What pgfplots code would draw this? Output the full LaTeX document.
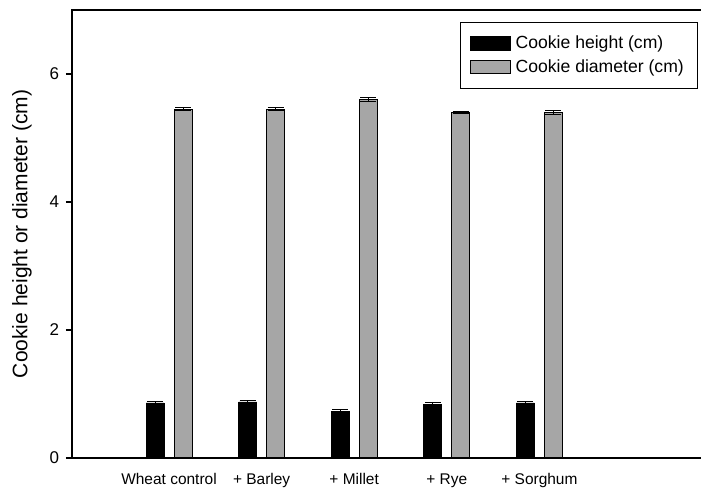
\documentclass[border=0pt]{standalone}
\usepackage{fontspec}
\setmainfont{Liberation Sans}
\usepackage{pgfplots}
\pgfplotsset{compat=1.18}
\usepackage{pgfplotstable}
\definecolor{diamgray}{RGB}{166,166,166}

% mean cookie height and diameter (cm) with standard errors
\pgfplotstableread{
x h     herr d     derr
0 0.860 0.030 5.450 0.025
1 0.875 0.030 5.450 0.025
2 0.730 0.020 5.600 0.030
3 0.830 0.030 5.400 0.020
4 0.860 0.030 5.400 0.030
}\cookies

\pgfplotsset{
  swatch/.style={legend image code/.code={
    \draw[##1, line width=0.75pt] (0pt,-5pt) rectangle (30pt,5pt);}},
}

\begin{document}
\begin{tikzpicture}
\begin{axis}[
  scale only axis,
  width=473.25pt, height=336pt,
  xmin=-1.0475, xmax=5.7666,
  ymin=0, ymax=7,
  axis line style={line width=0.9pt, black},
  ytick={0,2,4,6},
  ytick pos=left,
  tick align=outside,
  major tick length=4.5pt,
  ytick style={line width=0.9pt, black},
  xtick={0,1,2,3,4},
  xticklabels={Wheat control, + Barley, + Millet, + Rye, + Sorghum},
  xtick style={draw=none},
  /pgf/number format/assume math mode=true,
  yticklabel style={font=\fontsize{12.75}{15}\selectfont, anchor=east,
    inner sep=0pt, xshift=-5pt},
  xticklabel style={font=\fontsize{11.6}{13}\selectfont, yshift=-3.5pt},
  ylabel={Cookie height or diameter (cm)},
  every axis y label/.style={at={(rel axis cs:0,0.5)}, xshift=-37.5pt,
    rotate=90, anchor=center, font=\fontsize{15.75}{18}\selectfont},
  ybar,
  bar width=13.5pt,
  legend style={at={(rel axis cs:1,1)}, anchor=north east,
    xshift=-3.75pt, yshift=-8.8pt, draw=black, line width=0.75pt,
    font=\fontsize{13.2}{15}\selectfont,
    inner xsep=7pt, inner ysep=8.5pt, row sep=2.5pt,
    nodes={inner xsep=3.25pt}},
  legend cell align=left,
]
\addplot[fill=black, draw=black, line width=0.6pt, bar shift=-10.5pt, swatch,
  error bars/.cd, y dir=both, y explicit,
  error bar style={line width=0.75pt, black},
  error mark options={rotate=90, mark size=6pt, line width=0.75pt, black}]
  table[x=x, y=h, y error=herr] {\cookies};
\addlegendentry{Cookie height (cm)}
\addplot[fill=diamgray, draw=black, line width=0.75pt, bar shift=10.5pt, swatch,
  error bars/.cd, y dir=both, y explicit,
  error bar style={line width=0.75pt, black},
  error mark options={rotate=90, mark size=6pt, line width=0.75pt, black}]
  table[x=x, y=d, y error=derr] {\cookies};
\addlegendentry{Cookie diameter (cm)}
\end{axis}
% the right-hand frame line lies just outside the page
\pgfresetboundingbox
\path[use as bounding box]
  ([xshift=-54pt,yshift=-23.25pt]current axis.south west)
  rectangle ([xshift=-1.5pt,yshift=7.5pt]current axis.north east);
\end{tikzpicture}
\end{document}
